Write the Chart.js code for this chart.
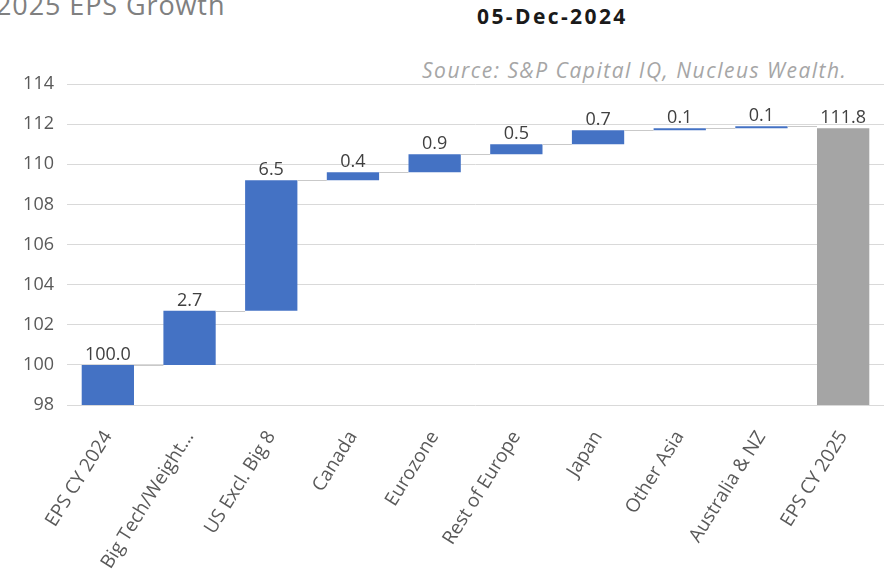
<!DOCTYPE html>
<html>
<head>
<meta charset="utf-8">
<script src="https://cdn.jsdelivr.net/npm/chart.js@4"></script>
<style>
	html, body { margin: 0; padding: 0; background: #fff; }
	#wrap { position: relative; width: 886px; height: 578px; overflow: hidden; }
	#chart { position: absolute; left: 0; top: 0; }
	.title { position: absolute; left: -4px; top: -14px; font: 27px "Open Sans", sans-serif; letter-spacing: 0.9px; color: #808080; white-space: nowrap; }
	.date { position: absolute; left: 477px; top: 2px; font: bold 21px "Open Sans", sans-serif; letter-spacing: 2.4px; color: #1a1a1a; white-space: nowrap; }
	.source { position: absolute; left: 422px; top: 56px; font: italic 21px "Open Sans", sans-serif; letter-spacing: 1.5px; color: #a6a6a6; white-space: nowrap; }
</style>
</head>
<body>
<div id="wrap">
	<div class="title">2025 EPS Growth</div>
	<div class="date">05-Dec-2024</div>
	<div class="source">Source: S&amp;P Capital IQ, Nucleus Wealth.</div>
	<canvas id="chart" width="886" height="578"></canvas>
</div>
<script>
// categories and values
const categories = ['EPS CY 2024', 'Big Tech/Weight...', 'US Excl. Big 8', 'Canada', 'Eurozone',
	'Rest of Europe', 'Japan', 'Other Asia', 'Australia & NZ', 'EPS CY 2025'];
const startValue = 100.0;               // EPS CY 2024
const increments = [2.7, 6.5, 0.4, 0.9, 0.5, 0.7, 0.1, 0.1];
const endValue = 111.8;                 // EPS CY 2025
const yTicks = [98, 100, 102, 104, 106, 108, 110, 112, 114];

const BLUE = '#4472c4';
const GREY = '#a5a5a5';
const TEXT = '#595959';

// floating bars: [from, to]
let ranges = [[0, startValue]];
let labels = [startValue.toFixed(1)];
let level = startValue;
increments.forEach(v => {
	ranges.push([level, level + v]);
	labels.push(v.toFixed(1));
	level += v;
});
ranges.push([0, endValue]);
labels.push(endValue.toFixed(1));

const colors = categories.map((c, i) => (i === categories.length - 1) ? GREY : BLUE);

// connectors + value labels
const waterfallExtras = {
	id: 'waterfallExtras',
	afterDatasetsDraw(chart)
	{
		const ctx = chart.ctx;
		const meta = chart.getDatasetMeta(0);
		const bars = meta.data;
		ctx.save();
		ctx.strokeStyle = '#c9c9c9';
		ctx.lineWidth = 1;
		for (let i = 0; i < bars.length - 1; i++)
		{
			const a = bars[i], b = bars[i + 1];
			const y = Math.round(a.y) + 0.5;
			ctx.beginPath();
			ctx.moveTo(a.x + a.width / 2, y);
			ctx.lineTo(b.x - b.width / 2, y);
			ctx.stroke();
		}
		ctx.fillStyle = '#404040';
		ctx.font = '18px "Open Sans"';
		ctx.textAlign = 'center';
		ctx.textBaseline = 'bottom';
		bars.forEach((bar, i) => {
			ctx.fillText(labels[i], bar.x, bar.y - 1);
		});
		ctx.restore();
	}
};

new Chart(document.getElementById('chart'), {
	type: 'bar',
	data: {
		labels: categories,
		datasets: [{
			data: ranges,
			backgroundColor: colors,
			borderWidth: 0,
			barPercentage: 0.64,
			categoryPercentage: 1,
		}]
	},
	options: {
		responsive: false,
		animation: false,
		layout: { padding: { top: 84, right: 2, left: 0, bottom: 0 } },
		plugins: {
			legend: { display: false },
			tooltip: { enabled: false },
		},
		scales: {
			x: {
				grid: { display: false },
				border: { display: false },
				ticks: {
					color: TEXT,
					font: { family: 'Open Sans', size: 19 },
					minRotation: 58,
					maxRotation: 58,
					padding: 14,
					autoSkip: false,
				},
				afterFit: (scale) => { scale.height = 173; },
			},
			y: {
				min: yTicks[0],
				max: yTicks[yTicks.length - 1],
				afterBuildTicks: (scale) => { scale.ticks = yTicks.map(v => ({ value: v })); },
				grid: { color: '#d9d9d9', drawTicks: false },
				border: { display: false },
				ticks: {
					color: TEXT,
					font: { family: 'Open Sans', size: 18 },
					padding: 13,
				},
				afterFit: (scale) => { scale.width = 67; },
			}
		}
	},
	plugins: [waterfallExtras]
});
</script>
</body>
</html>
